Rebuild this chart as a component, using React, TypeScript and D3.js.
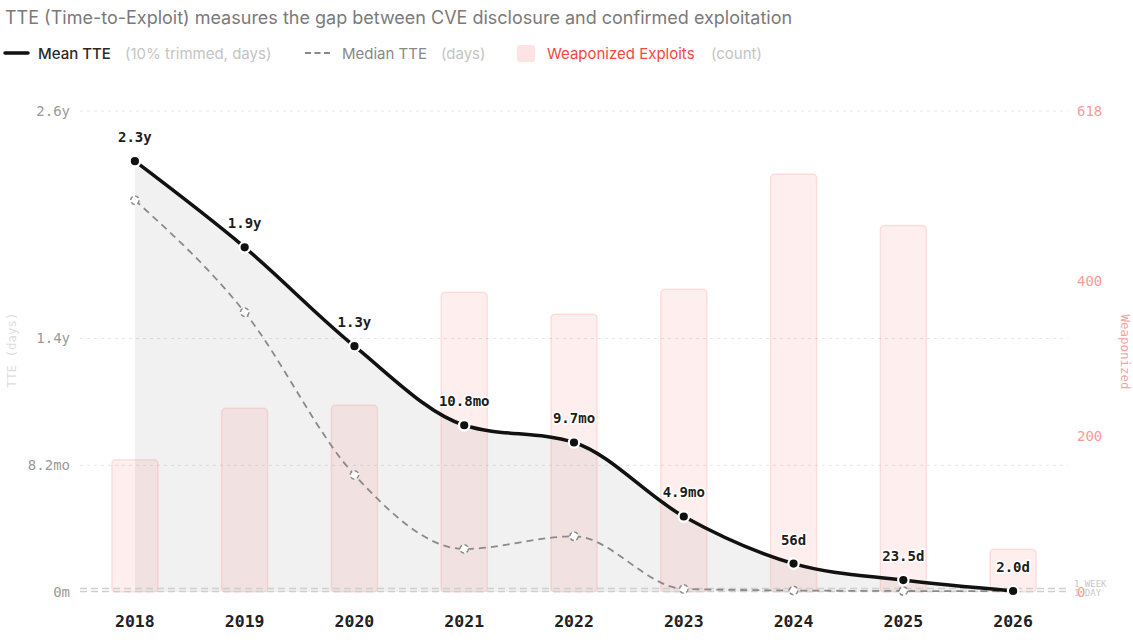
import React, { useEffect, useRef } from 'react';
import * as d3 from 'd3';

// values
const years = ['2018', '2019', '2020', '2021', '2022', '2023', '2024', '2025', '2026'];
const meanTTE = [850, 680, 485, 329, 295, 149, 56, 23.5, 2.0]; // days, 10% trimmed
const medianTTE = [773, 552, 231, 85, 110, 6, 3, 2, 1.5]; // days
const weaponized = [170, 236, 240, 385, 357, 389, 537, 471, 55]; // count
const leftTicks = [0, 250, 500, 949];
const rightTicks = [0, 200, 400, 618];
const refLines = [
  { label: '1 WEEK', days: 7 },
  { label: '1 DAY', days: 1 },
];

const W = 1133;
const H = 643;
const mono = '"DejaVu Sans Mono", monospace';
const sans = 'Inter, "Noto Sans", sans-serif';

function fmtAxis(d: number) {
  if (d === 0) return '0m';
  if (d < 365) return (d / 30.44).toFixed(1) + 'mo';
  return (d / 365).toFixed(1) + 'y';
}

function fmtLabel(d: number) {
  if (d >= 365) return (d / 365).toFixed(1) + 'y';
  if (d >= 60) return (d / 30.44).toFixed(1) + 'mo';
  if (d >= 30) return Math.round(d) + 'd';
  return d.toFixed(1) + 'd';
}

export default function App() {
  const ref = useRef<SVGSVGElement>(null);

  useEffect(() => {
    const svg = d3.select(ref.current);
    svg.selectAll('*').remove();

    const left = 80, right = 1068, top = 111, bottom = 592;

    const x = d3.scaleBand().domain(years).range([left, right]).paddingInner(0.58).paddingOuter(0.29);
    const cx = (y: string) => (x(y) as number) + x.bandwidth() / 2;
    const y = d3.scaleLinear().domain([0, 949]).range([bottom, top]);
    const y2 = d3.scaleLinear().domain([0, 618]).range([bottom, top]);

    // title
    svg.append('text')
      .attr('x', 5).attr('y', 24)
      .attr('font-family', sans).attr('font-size', 18).attr('fill', '#7a7a7a')
      .text('TTE (Time-to-Exploit) measures the gap between CVE disclosure and confirmed exploitation');

    // legend
    const lg = svg.append('g').attr('font-family', sans).attr('font-size', 15);
    lg.append('line').attr('x1', 5).attr('x2', 28).attr('y1', 53).attr('y2', 53)
      .attr('stroke', '#111').attr('stroke-width', 3.5).attr('stroke-linecap', 'round');
    lg.append('text').attr('x', 38).attr('y', 58.5).attr('fill', '#2a2a2a').attr('font-weight', 500).text('Mean TTE');
    lg.append('text').attr('x', 125).attr('y', 58.5).attr('fill', '#c4c4c4').text('(10% trimmed, days)');
    lg.append('line').attr('x1', 305).attr('x2', 330).attr('y1', 53).attr('y2', 53)
      .attr('stroke', '#888').attr('stroke-width', 2).attr('stroke-dasharray', '6,3.5');
    lg.append('text').attr('x', 342).attr('y', 58.5).attr('fill', '#888').text('Median TTE');
    lg.append('text').attr('x', 441).attr('y', 58.5).attr('fill', '#c4c4c4').text('(days)');
    lg.append('rect').attr('x', 517).attr('y', 45).attr('width', 18).attr('height', 17).attr('rx', 3)
      .attr('fill', '#fde3e3');
    lg.append('text').attr('x', 547).attr('y', 58.5).attr('fill', '#f5473f').text('Weaponized Exploits');
    lg.append('text').attr('x', 711).attr('y', 58.5).attr('fill', '#c4c4c4').text('(count)');

    // grid
    svg.append('g').selectAll('line').data(leftTicks.filter(d => d > 0)).join('line')
      .attr('x1', left).attr('x2', right)
      .attr('y1', d => y(d)).attr('y2', d => y(d))
      .attr('stroke', '#e6e6e6').attr('stroke-dasharray', '3,4');

    // left axis
    svg.append('g').selectAll('text').data(leftTicks).join('text')
      .attr('x', 70).attr('y', d => y(d)).attr('dy', '0.35em').attr('text-anchor', 'end')
      .attr('font-family', mono).attr('font-size', 14).attr('fill', '#9a9a9a')
      .text(fmtAxis);
    svg.append('text')
      .attr('transform', 'translate(16,350) rotate(-90)').attr('text-anchor', 'middle')
      .attr('font-family', mono).attr('font-size', 12.5).attr('fill', '#dedede')
      .text('TTE (days)');

    // right axis
    svg.append('g').selectAll('text').data(rightTicks).join('text')
      .attr('x', 1077).attr('y', d => y2(d)).attr('dy', '0.35em')
      .attr('font-family', mono).attr('font-size', 14).attr('fill', '#fb9b96')
      .text(d => String(d));
    svg.append('text')
      .attr('transform', 'translate(1121,352) rotate(90)').attr('text-anchor', 'middle')
      .attr('font-family', mono).attr('font-size', 12.5).attr('fill', '#f7a3a0')
      .text('Weaponized');

    // area under mean
    const pts = years.map((yr, i) => ({ yr, mean: meanTTE[i], median: medianTTE[i], count: weaponized[i] }));
    const area = d3.area<typeof pts[0]>()
      .x(d => cx(d.yr)).y0(bottom).y1(d => y(d.mean)).curve(d3.curveMonotoneX);
    svg.append('path').attr('d', area(pts) as string).attr('fill', '#000').attr('fill-opacity', 0.055);

    // bars
    svg.append('g').selectAll('rect').data(pts).join('rect')
      .attr('x', d => x(d.yr) as number).attr('width', x.bandwidth())
      .attr('y', d => y2(d.count)).attr('height', d => bottom - y2(d.count))
      .attr('rx', 4)
      .attr('fill', '#ff5a5a').attr('fill-opacity', 0.1)
      .attr('stroke', '#ff7070').attr('stroke-opacity', 0.18).attr('stroke-width', 1.5);

    // reference lines
    refLines.forEach(r => {
      svg.append('line').attr('x1', left).attr('x2', right)
        .attr('y1', y(r.days)).attr('y2', y(r.days))
        .attr('stroke', '#cfcfcf').attr('stroke-width', 1.5).attr('stroke-dasharray', '7,4');
    });
    svg.append('g').selectAll('text').data(refLines).join('text')
      .attr('x', 1074).attr('y', (d, i) => y(d.days) + (i === 0 ? -1 : 5))
      .attr('font-family', mono).attr('font-size', 9).attr('fill', '#c8c8c8')
      .text(d => d.label);

    // median line
    const medLine = d3.line<typeof pts[0]>()
      .x(d => cx(d.yr)).y(d => y(d.median)).curve(d3.curveMonotoneX);
    svg.append('path').attr('d', medLine(pts) as string).attr('fill', 'none')
      .attr('stroke', '#8a8a8a').attr('stroke-width', 1.8).attr('stroke-dasharray', '7,5');
    svg.append('g').selectAll('circle').data(pts).join('circle')
      .attr('cx', d => cx(d.yr)).attr('cy', d => y(d.median)).attr('r', 4.2)
      .attr('fill', '#fff').attr('stroke', '#8a8a8a').attr('stroke-width', 1.5).attr('stroke-dasharray', '4,2.5');

    // mean line
    const meanLine = d3.line<typeof pts[0]>()
      .x(d => cx(d.yr)).y(d => y(d.mean)).curve(d3.curveMonotoneX);
    svg.append('path').attr('d', meanLine(pts) as string).attr('fill', 'none')
      .attr('stroke', '#111').attr('stroke-width', 3.5);
    svg.append('g').selectAll('circle').data(pts).join('circle')
      .attr('cx', d => cx(d.yr)).attr('cy', d => y(d.mean)).attr('r', 5.2)
      .attr('fill', '#111').attr('stroke', '#fff').attr('stroke-width', 2.2);

    // value labels
    svg.append('g').selectAll('text').data(pts).join('text')
      .attr('x', d => cx(d.yr)).attr('y', d => y(d.mean) - 19).attr('text-anchor', 'middle')
      .attr('font-family', mono).attr('font-size', 14).attr('font-weight', 'bold').attr('fill', '#1d1d1d')
      .attr('stroke', '#fff').attr('stroke-width', 3).attr('paint-order', 'stroke')
      .text(d => fmtLabel(d.mean));

    // x labels
    svg.append('g').selectAll('text').data(years).join('text')
      .attr('x', d => cx(d)).attr('y', 627).attr('text-anchor', 'middle')
      .attr('font-family', mono).attr('font-size', 16.5).attr('font-weight', 'bold').attr('fill', '#222')
      .text(d => d);
  }, []);

  return (
    <svg ref={ref} width={W} height={H}
      style={{ position: 'absolute', left: 0, top: 0, background: '#fff' }} />
  );
}
